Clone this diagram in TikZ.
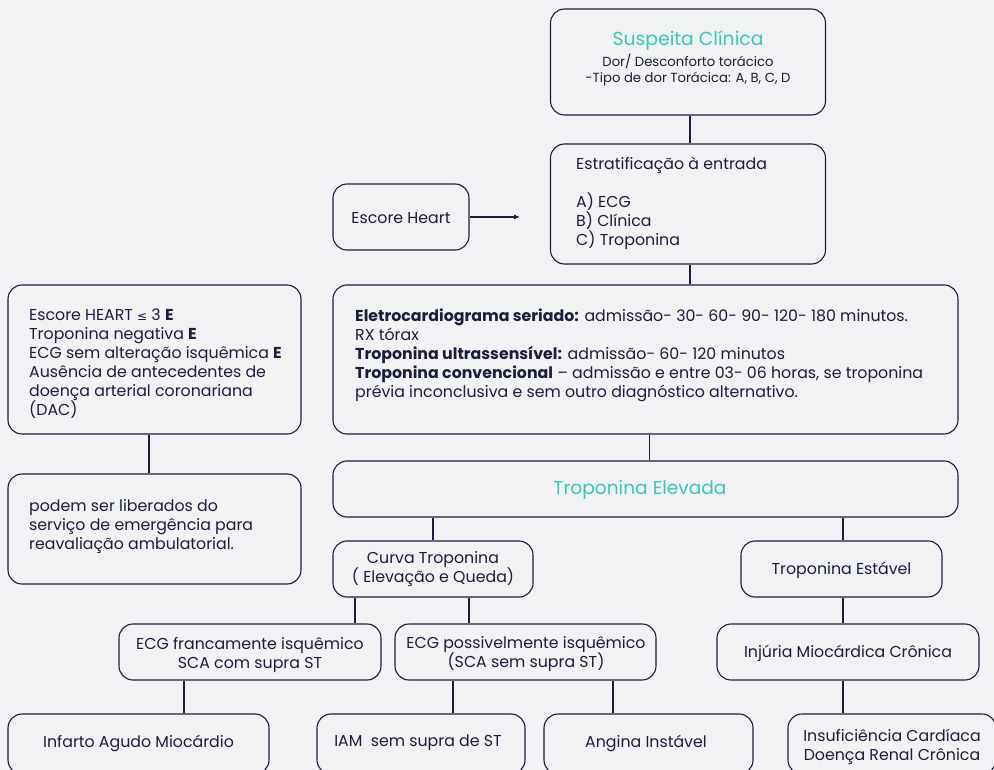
\documentclass[tikz,border=0pt]{standalone}
\usepackage{fontspec}
\setmainfont{Poppins}
\newfontfamily\symfnt{DejaVu Sans}
\usetikzlibrary{arrows.meta}
\definecolor{bgc}{HTML}{F1F2F4}
\definecolor{navy}{HTML}{1E1C3C}
\definecolor{tealc}{HTML}{3CC6B4}
\newcommand{\bodyfont}{\fontsize{15.8}{19}\selectfont}
\newcommand{\ptl}[2]{\parbox[t]{#1}{\raggedright #2}}
\newcommand{\ptc}[2]{\parbox[t]{#1}{\centering #2}}
\begin{document}
\begin{tikzpicture}[x=1pt,y=-1pt,
  box/.style={draw=navy, line width=1.1pt, rounded corners=14pt, inner sep=0pt},
  txt/.style={inner sep=0pt, text=navy, font=\bodyfont},
  conn/.style={draw=navy, line width=1.1pt}]
\fill[bgc] (0,0) rectangle (994,770);
\useasboundingbox (0,0) rectangle (994,770);
% boxes
\node[box, minimum width=275, minimum height=106] (susp) at (688,62) {};
\node[box, minimum width=275, minimum height=120] (estr) at (688,204) {};
\node[box, minimum width=136, minimum height=66] (heart) at (401,217) {};
\node[box, minimum width=625, minimum height=149] (big) at (645.5,359.5) {};
\node[box, minimum width=293, minimum height=149] (left1) at (154.5,359.5) {};
\node[box, minimum width=293, minimum height=110] (left2) at (154.5,529) {};
\node[box, minimum width=625, minimum height=56] (te) at (645.5,489) {};
\node[box, minimum width=200, minimum height=56] (curva) at (433,569) {};
\node[box, minimum width=201, minimum height=56] (estav) at (841.5,569) {};
\node[box, minimum width=262, minimum height=56] (ecgf) at (250,652) {};
\node[box, minimum width=261, minimum height=56] (ecgp) at (525.5,652) {};
\node[box, minimum width=262, minimum height=56] (inj) at (848,652) {};
\node[box, minimum width=261, minimum height=60] (infarto) at (138.5,744) {};
\node[box, minimum width=208, minimum height=60] (iam) at (421,744) {};
\node[box, minimum width=209, minimum height=60] (angina) at (648.5,744) {};
\node[box, minimum width=208, minimum height=60] (insuf) at (892,744) {};
% texts
\node[txt, anchor=base, text=tealc, font=\fontsize{18.8}{22}\selectfont] (suspT) at (688,45.5) {Suspeita Clínica};
\node[txt, anchor=base, font=\fontsize{13.2}{16}\selectfont] (suspS) at (688,66.5) {\ptc{270pt}{Dor/ Desconforto torácico\\ -Tipo de dor Torácica: A, B, C, D}};
\node[txt, anchor=base west] (estrT) at (576,170) {\ptl{240pt}{Estratificação à entrada\\[19pt] A) ECG\\ B) Clínica\\ C) Troponina}};
\node[txt] (heartT) at (401,218) {Escore Heart};
\node[txt, anchor=base west] (bigT) at (355,321.5) {\ptl{598pt}{\textbf{Eletrocardiograma seriado:} admissão- 30- 60- 90- 120- 180 minutos.\\ RX tórax\\ \textbf{Troponina ultrassensível:} admissão- 60- 120 minutos\\ \textbf{Troponina convencional} – admissão e entre 03- 06 horas, se troponina\\ prévia inconclusiva e sem outro diagnóstico alternativo.}};
\node[txt, anchor=base west] (left1T) at (29,320.5) {\ptl{270pt}{Escore HEART {\symfnt\fontsize{12}{19}\selectfont ≤} 3 \textbf{E}\\ Troponina negativa \textbf{E}\\ ECG sem alteração isquêmica \textbf{E}\\ Ausência de antecedentes de\\ doença arterial coronariana\\ (DAC)}};
\node[txt, anchor=base west] (left2T) at (29,511.5) {\ptl{270pt}{podem ser liberados do\\ serviço de emergência para\\ reavaliação ambulatorial.}};
\node[txt, text=tealc, font=\fontsize{18.6}{22}\selectfont] (teT) at (640,490) {Troponina Elevada};
\node[txt, anchor=base] (curvaT) at (433,563.5) {\ptc{195pt}{Curva Troponina\\ ( Elevação e Queda)}};
\node[txt] (estavT) at (841.5,570.5) {Troponina Estável};
\node[txt, anchor=base] (ecgfT) at (250,649.5) {\ptc{258pt}{ECG francamente isquêmico\\ SCA com supra ST}};
\node[txt, anchor=base] (ecgpT) at (526,648.5) {\ptc{258pt}{ECG possivelmente isquêmico\\ (SCA sem supra ST)}};
\node[txt] (injT) at (848,653) {Injúria Miocárdica Crônica};
\node[txt] (infartoT) at (138.5,743) {Infarto Agudo Miocárdio};
\node[txt] (iamT) at (418,743) {IAM\ \ sem supra de ST};
\node[txt] (anginaT) at (646,743) {Angina Instável};
\node[txt, anchor=base] (insufT) at (892,741.5) {\ptc{205pt}{Insuficiência Cardíaca\\ Doença Renal Crônica}};
% connectors
\coordinate (arrEnd) at (520,217);
\draw[conn, -{Latex[length=6pt,width=5pt]}] (heart.east) -- (arrEnd);
\draw[conn] ([xshift=2]susp.south) -- ([xshift=2]estr.north);
\draw[conn] ([xshift=2]estr.south) -- ([xshift=2]estr.south |- big.north);
\draw[conn] ([xshift=4]big.south) -- ([xshift=4]te.north);
\draw[conn] (curva.north |- te.south) -- (curva.north);
\draw[conn] ([xshift=1.5]estav.north |- te.south) -- ([xshift=1.5]estav.north);
\draw[conn] ([xshift=-78]curva.south) -- ([xshift=-78]curva.south |- ecgf.north);
\draw[conn] ([xshift=36]curva.south) -- ([xshift=36]curva.south |- ecgp.north);
\draw[conn] ([xshift=1.5]estav.south) -- ([xshift=1.5]estav.south |- inj.north);
\draw[conn] ([xshift=-66]ecgf.south) -- ([xshift=-66]ecgf.south |- infarto.north);
\draw[conn] ([xshift=-72.5]ecgp.south) -- ([xshift=-72.5]ecgp.south |- iam.north);
\draw[conn] ([xshift=87.5]ecgp.south) -- ([xshift=87.5]ecgp.south |- angina.north);
\draw[conn] ([xshift=-5]inj.south) -- ([xshift=-5]inj.south |- insuf.north);
\draw[conn] ([xshift=-5.5]left1.south) -- ([xshift=-5.5]left1.south |- left2.north);
\end{tikzpicture}
\end{document}
